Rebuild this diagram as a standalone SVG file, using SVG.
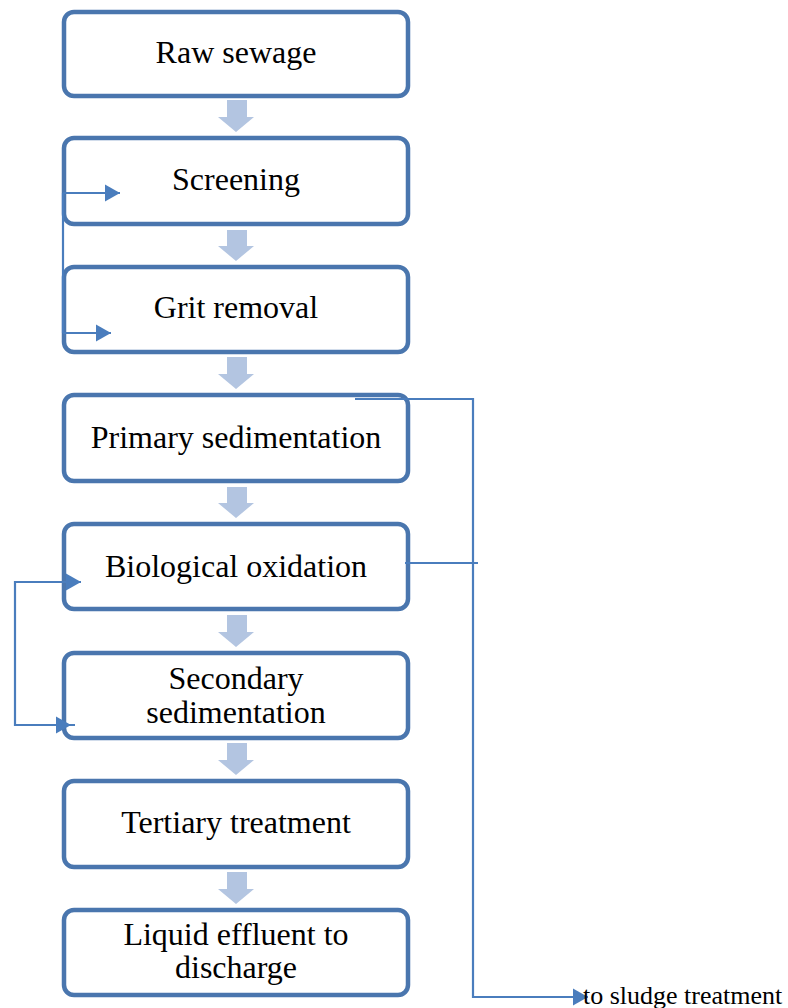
<svg xmlns="http://www.w3.org/2000/svg" width="788" height="1008" viewBox="0 0 788 1008">
<style>
.box{fill:#ffffff;stroke:#4a76ae;stroke-width:4.5}
.lbl{font-family:"Liberation Serif","Times New Roman",serif;font-size:32px;fill:#000;text-anchor:middle}
.blk{fill:#b3c5e1}
.con{fill:none;stroke:#4a7dbd;stroke-width:2.2}
.side{font-family:"Liberation Serif","Times New Roman",serif;font-size:26px;fill:#000}
</style>
<defs>
<marker id="ah" markerWidth="8" markerHeight="8" refX="7" refY="4" orient="auto" markerUnits="strokeWidth">
<path d="M0,0 L7,4 L0,8 Z" fill="#4a7dbd"/>
</marker>
</defs>
<rect width="788" height="1008" fill="#ffffff"/>
<g id="flow-arrows">
<path class="blk" d="M227,100 h20 v17 h7 l-18,15 l-18,-15 h9 z"/>
<path class="blk" d="M227,230 h20 v16 h7 l-18,15 l-18,-15 h9 z"/>
<path class="blk" d="M227,357 h20 v17 h7 l-18,15 l-18,-15 h9 z"/>
<path class="blk" d="M227,487 h20 v16 h7 l-18,15 l-18,-15 h9 z"/>
<path class="blk" d="M227,615 h20 v17 h7 l-18,15 l-18,-15 h9 z"/>
<path class="blk" d="M227,743 h20 v17 h7 l-18,15 l-18,-15 h9 z"/>
<path class="blk" d="M227,872 h20 v17 h7 l-18,15 l-18,-15 h9 z"/>
</g>
<g id="n1"><rect class="box" x="64" y="12" width="344" height="84" rx="10"/><text class="lbl" x="236" y="63">Raw sewage</text></g>
<g id="n2"><rect class="box" x="64" y="138" width="344" height="86" rx="10"/><text class="lbl" x="236" y="190">Screening</text></g>
<g id="n3"><rect class="box" x="64" y="267" width="344" height="85" rx="10"/><text class="lbl" x="236" y="318">Grit removal</text></g>
<g id="n4"><rect class="box" x="64" y="395" width="344" height="86" rx="10"/><text class="lbl" x="236" y="448">Primary sedimentation</text></g>
<g id="n5"><rect class="box" x="64" y="524" width="344" height="85" rx="10"/><text class="lbl" x="236" y="577">Biological oxidation</text></g>
<g id="n6"><rect class="box" x="64" y="653" width="344" height="85" rx="10"/><text class="lbl" x="236" y="689">Secondary</text><text class="lbl" x="236" y="723">sedimentation</text></g>
<g id="n7"><rect class="box" x="64" y="781" width="344" height="86" rx="10"/><text class="lbl" x="236" y="833">Tertiary treatment</text></g>
<g id="n8"><rect class="box" x="64" y="910" width="344" height="85" rx="10"/><text class="lbl" x="236" y="945">Liquid effluent to</text><text class="lbl" x="236" y="978">discharge</text></g>
<g id="connectors">
<path class="con" d="M63,193 V333"/>
<path class="con" d="M63,193 H120" marker-end="url(#ah)"/>
<path class="con" d="M63,333 H111" marker-end="url(#ah)"/>
<path class="con" d="M355,399 H473 V997 H588" marker-end="url(#ah)"/>
<path class="con" d="M405,563 H478"/>
<path class="con" d="M75,725 H15 V582 H81" marker-end="url(#ah)"/>
<path class="con" d="M15,725 H71" marker-end="url(#ah)"/>
</g>
<text class="side" x="583" y="1004">to sludge treatment</text>
</svg>
